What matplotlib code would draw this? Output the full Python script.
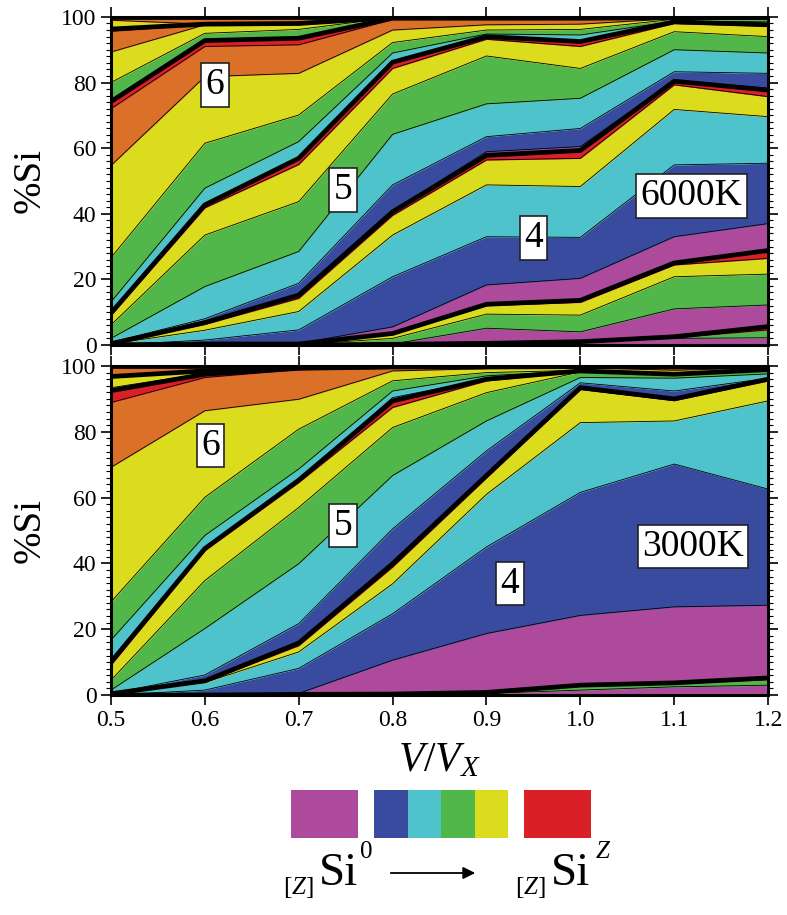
import numpy as np
import matplotlib
matplotlib.use('Agg')
import matplotlib.pyplot as plt
from matplotlib.patches import Rectangle, FancyArrowPatch
from matplotlib.ticker import MultipleLocator, FormatStrFormatter

plt.rcParams['font.family'] = ['Liberation Serif', 'DejaVu Serif']
plt.rcParams['mathtext.fontset'] = 'custom'
plt.rcParams['mathtext.rm'] = 'Liberation Serif'
plt.rcParams['mathtext.it'] = 'Liberation Serif:italic'

vratio = [0.5, 0.6, 0.7, 0.8, 0.9, 1.0, 1.1, 1.2]

mag = '#ad4a9b'
blu = '#394b9f'
cya = '#4fc3cb'
grn = '#52b74a'
yel = '#dcdc1e'
ora = '#db7128'
red = '#d92027'

# 6000K: upper edge (%Si) of every Si^n band, bottom to top, one list per coordination shell
hot_z2 = [(mag, [0, 0, 0, 0.1, 0.3, 0.7, 2.0, 2.2]),
          (grn, [0, 0, 0, 0.15, 0.4, 0.9, 2.2, 4.6]),
          (red, [0, 0, 0, 0.2, 0.5, 1.0, 2.5, 5.6])]
hot_z3 = [(mag, [0, 0, 0, 0.3, 5.1, 4.0, 11.0, 12.2]),
          (grn, [0, 0.1, 0.1, 2.0, 9.4, 9.1, 20.8, 21.6]),
          (yel, [0, 0.2, 0.2, 3.2, 12.0, 13.0, 24.4, 26.4]),
          (red, [0, 0.3, 0.3, 3.5, 12.4, 13.6, 25.0, 28.8])]
hot_z4 = [(mag, [0, 0.3, 0.5, 5.5, 18.3, 20.3, 33.0, 37.0]),
          (blu, [0, 1.5, 4.6, 20.8, 33.0, 32.8, 54.9, 55.4]),
          (cya, [0.3, 4.5, 10.2, 33.5, 48.8, 48.3, 71.8, 69.6]),
          (yel, [0.3, 6.3, 14.2, 39.5, 56.4, 56.9, 79.3, 75.7]),
          (red, [0.4, 6.8, 15.2, 40.6, 57.8, 59.3, 80.4, 77.7])]
hot_z5 = [(mag, [0.4, 6.8, 15.2, 41.0, 58.9, 60.5, 80.6, 78.3]),
          (blu, [0.8, 8.0, 18.8, 48.8, 63.5, 66.0, 83.3, 82.8]),
          (cya, [2.0, 17.8, 28.5, 64.2, 73.5, 75.2, 90.0, 89.0]),
          (grn, [6.1, 33.5, 43.7, 76.5, 88.1, 84.3, 95.5, 94.0]),
          (yel, [9.1, 41.8, 55.0, 84.3, 93.2, 91.0, 98.0, 97.2]),
          (red, [9.7, 42.7, 56.9, 86.2, 94.0, 92.5, 98.5, 97.6])]
hot_z6 = [(cya, [13.1, 47.8, 62.0, 89.0, 94.8, 94.5, 98.7, 98.5]),
          (grn, [26.6, 61.5, 70.1, 92.2, 96.0, 96.2, 99.3, 99.3]),
          (yel, [54.7, 81.8, 82.8, 96.0, 97.6, 97.8, 99.5, 99.6]),
          (ora, [72.0, 91.0, 91.5, 99.2, 99.3, 99.4, 99.7, 99.8]),
          (red, [74.2, 92.8, 93.5, 99.6, 99.6, 99.6, 99.8, 99.9])]
hot_z7 = [(cya, [74.7, 93.0, 93.8, 99.7, 99.7, 99.7, 99.9, 99.9]),
          (grn, [80.0, 95.0, 96.2, 99.8, 99.8, 99.8, 99.9, 99.9]),
          (yel, [89.3, 97.6, 97.6, 99.8, 99.8, 99.8, 99.9, 99.9]),
          (ora, [95.6, 97.7, 97.8, 99.8, 99.8, 99.8, 99.9, 99.9]),
          (red, [96.3, 97.8, 98.0, 99.8, 99.8, 99.8, 99.9, 99.9])]
hot_z8 = [(yel, [99.0, 97.8, 98.0, 99.9, 99.9, 99.9, 100, 100]),
          (ora, [100, 100, 100, 100, 100, 100, 100, 100])]

# 3000K
cold_z3 = [(mag, [0, 0, 0.1, 0.2, 0.5, 1.5, 2.5, 3.0]),
           (grn, [0, 0, 0.1, 0.2, 0.6, 2.7, 3.4, 4.7]),
           (red, [0, 0, 0.2, 0.3, 0.8, 3.0, 3.7, 5.2])]
cold_z4 = [(mag, [0, 0, 0.5, 10.6, 18.7, 24.2, 26.8, 27.3]),
           (blu, [0, 1.5, 8.1, 24.7, 45.0, 61.6, 70.2, 62.6]),
           (cya, [0.3, 3.8, 13.1, 33.8, 61.0, 82.8, 83.3, 89.4]),
           (yel, [0.3, 4.0, 15.0, 38.9, 66.0, 92.9, 89.5, 95.5]),
           (red, [0.4, 4.3, 15.8, 39.9, 66.7, 93.4, 90.0, 96.0])]
cold_z5 = [(mag, [0.4, 4.3, 15.8, 40.5, 67.2, 93.6, 90.4, 96.1]),
           (blu, [0.5, 6.1, 21.7, 50.5, 74.2, 94.9, 92.4, 96.3]),
           (cya, [1.5, 20.2, 39.9, 66.7, 83.3, 96.5, 96.3, 97.6]),
           (grn, [4.5, 34.8, 57.0, 81.3, 91.9, 98.2, 97.3, 98.5]),
           (yel, [9.1, 43.9, 64.6, 87.4, 95.5, 98.3, 97.4, 98.7]),
           (red, [10.0, 44.5, 65.3, 89.4, 96.0, 98.5, 97.5, 98.9])]
cold_z6 = [(blu, [10.0, 45.0, 65.6, 90.4, 96.0, 98.5, 97.5, 98.9]),
           (cya, [16.7, 48.5, 68.7, 92.4, 97.0, 98.6, 97.6, 99.0]),
           (grn, [28.3, 60.1, 80.8, 95.5, 98.0, 98.7, 97.7, 99.1]),
           (yel, [69.2, 86.4, 89.9, 98.5, 99.2, 99.5, 98.7, 99.5]),
           (ora, [88.9, 96.5, 98.9, 99.5, 99.6, 99.7, 99.6, 99.7]),
           (red, [92.5, 97.5, 99.3, 99.7, 99.7, 99.8, 99.7, 99.8])]
cold_z7 = [(grn, [93.4, 97.8, 99.4, 99.8, 99.8, 99.9, 99.8, 99.9]),
           (yel, [96.8, 98.5, 99.5, 99.8, 99.8, 99.9, 99.8, 99.9])]
cold_z8 = [(ora, [100, 100, 100, 100, 100, 100, 100, 100])]

hot_shells = [hot_z2, hot_z3, hot_z4, hot_z5, hot_z6, hot_z7, hot_z8]
cold_shells = [cold_z3, cold_z4, cold_z5, cold_z6, cold_z7, cold_z8]

hot_labels = [('6', 0.611, 79.3), ('5', 0.747, 47.3), ('4', 0.950, 32.6), ('6000K', 1.118, 45.4)]
cold_labels = [('6', 0.606, 75.8), ('5', 0.747, 51.5), ('4', 0.925, 33.9), ('3000K', 1.120, 45.2)]


def draw_panel(ax, shells, labels):
    x = np.array(vratio)
    prev = np.zeros(len(x))
    for shell in shells:
        for col, top in shell:
            top = np.maximum(np.array(top, dtype=float), prev)
            ax.fill_between(x, prev, top, facecolor=col, edgecolor=col, lw=0.3)
            ax.plot(x, top, color='k', lw=0.6)
            prev = top
        # shell boundary
        ax.plot(x, prev, color='k', lw=3.4, solid_joinstyle='miter', zorder=3)
    for txt, lx, ly in labels:
        ax.text(lx, ly, txt, fontsize=27, ha='center', va='center', zorder=5,
                bbox=dict(boxstyle='square,pad=0.12', fc='white', ec='#222222', lw=1.2))
    ax.set_xlim(0.5, 1.2)
    ax.set_ylim(0, 100)
    ax.xaxis.set_major_locator(MultipleLocator(0.1))
    ax.xaxis.set_major_formatter(FormatStrFormatter('%.1f'))
    ax.yaxis.set_major_locator(MultipleLocator(20))
    ax.yaxis.set_minor_locator(MultipleLocator(2))
    ax.tick_params(which='both', direction='out', top=True, right=True, labelsize=17)
    ax.tick_params(which='major', length=7, width=1.2)
    ax.tick_params(which='minor', length=3.5, width=0.8)
    for s in ax.spines.values():
        s.set_linewidth(2.2)
    ax.set_ylabel('%Si', fontsize=28, labelpad=9)


fig = plt.figure(figsize=(7.87, 9.15), dpi=100)
ax1 = fig.add_axes([0.141, 0.623, 0.835, 0.3585])
ax2 = fig.add_axes([0.141, 0.2404, 0.835, 0.3596])
draw_panel(ax1, hot_shells, hot_labels)
draw_panel(ax2, cold_shells, cold_labels)
ax1.tick_params(labelbottom=False)
ax2.set_xlabel(r'$V/V_X$', fontsize=30, labelpad=8)

# colour key for Si^0 ... Si^Z, in figure pixels
lax = fig.add_axes([0, 0, 1, 1], zorder=-1)
lax.set_xlim(0, 787)
lax.set_ylim(915, 0)
lax.axis('off')
swatches = [(291, 67, mag), (374, 33.6, blu), (407.6, 33.6, cya), (441.2, 33.6, grn),
            (474.8, 33.6, yel), (524, 67, red)]
for x0, w, col in swatches:
    lax.add_patch(Rectangle((x0, 790), w, 48, facecolor=col, edgecolor='none'))

lax.text(298, 888, r'$[Z]$', fontsize=18, ha='center', va='center')
lax.text(338, 874, 'Si', fontsize=34, ha='center', va='center')
lax.text(366, 852, '0', fontsize=18, ha='center', va='center')
lax.add_patch(FancyArrowPatch((388, 873), (478, 873), arrowstyle='-|>', mutation_scale=18,
                              color='k', lw=1.3))
lax.text(530, 888, r'$[Z]$', fontsize=18, ha='center', va='center')
lax.text(570, 874, 'Si', fontsize=34, ha='center', va='center')
lax.text(603, 852, r'$Z$', fontsize=18, ha='center', va='center')

fig.savefig('out.png', dpi=100)
